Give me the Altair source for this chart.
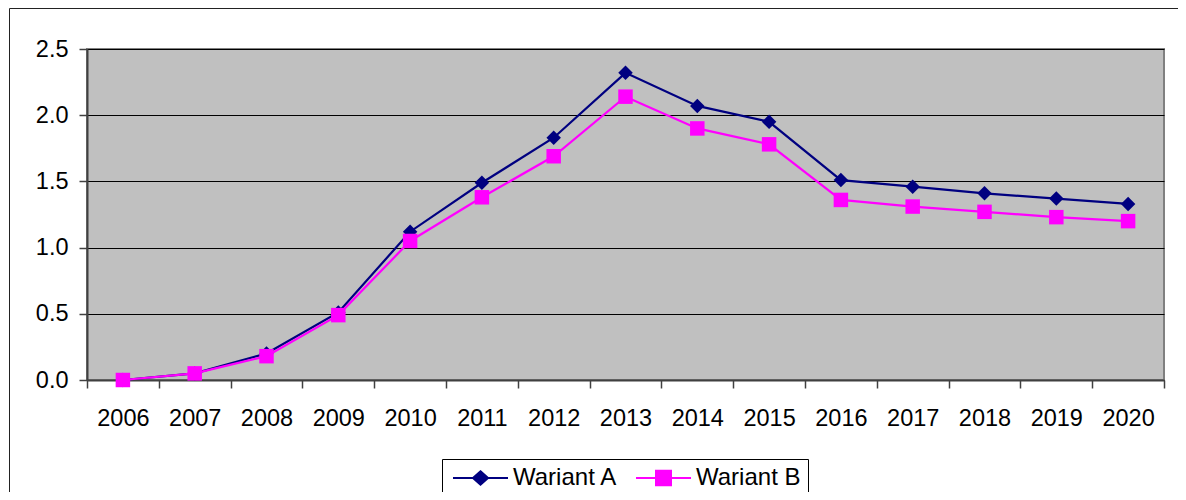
import altair as alt
import pandas as pd

years = ["2006", "2007", "2008", "2009", "2010", "2011", "2012", "2013",
         "2014", "2015", "2016", "2017", "2018", "2019", "2020"]
wariant_a = [0.0, 0.05, 0.20, 0.51, 1.12, 1.49, 1.83, 2.32, 2.07, 1.95, 1.51, 1.46, 1.41, 1.37, 1.33]
wariant_b = [0.0, 0.05, 0.18, 0.49, 1.05, 1.38, 1.69, 2.14, 1.90, 1.78, 1.36, 1.31, 1.27, 1.23, 1.20]
series_names = ["Wariant A", "Wariant B"]
series_colors = ["#000080", "#FF00FF"]
marker_shapes = ["diamond", "square"]
marker_sizes = [210, 210]
y_ticks = [0.0, 0.5, 1.0, 1.5, 2.0, 2.5]

rows = []
for name, vals in zip(series_names, [wariant_a, wariant_b]):
    for yr, v in zip(years, vals):
        rows.append({"year": yr, "value": v, "series": name})
df = pd.DataFrame(rows)

FONT = "Liberation Sans"

x_enc = alt.X("year:O", sort=years, bandPosition=0.5,
              scale=alt.Scale(type="band", paddingInner=0, paddingOuter=0),
              axis=alt.Axis(title=None, labelAngle=0, tickBand="extent", tickSize=8,
                            labelPadding=18, labelFontSize=23.5, labelFont=FONT,
                            labelColor="#000", domainColor="#404040", domainWidth=2,
                            tickColor="#404040", tickWidth=1.5, grid=False))
y_enc = alt.Y("value:Q", scale=alt.Scale(domain=[0, 2.5], nice=False),
              axis=alt.Axis(title=None, values=y_ticks, format=".1f", tickSize=8,
                            labelPadding=11, labelFontSize=23.5, labelFont=FONT,
                            labelColor="#000", domainColor="#404040", domainWidth=2,
                            tickColor="#404040", tickWidth=1.5, grid=True,
                            gridColor="#000", gridWidth=1))

base = alt.Chart(df)
layers = []
for name, col, shp, sz in zip(series_names, series_colors, marker_shapes, marker_sizes):
    sub = base.transform_filter(alt.datum.series == name)
    layers.append(sub.mark_line(color=col, strokeWidth=2.2).encode(x=x_enc, y=y_enc))
    layers.append(sub.mark_point(shape=shp, size=sz, filled=True, color=col, opacity=1)
                  .encode(x=x_enc, y=y_enc))

# legend glyphs: line segment with the marker in its middle (units of 8px)
legend_paths = [
    "M-1,0H5.875M2.4375,-0.84L3.38,0L2.4375,0.84L1.5,0Z",
    "M-1,0H5.875M1.5,-0.92H3.375V0.92H1.5Z",
]
leg = alt.Legend(title=None, orient="none", legendX=355, legendY=410, direction="horizontal",
                 columns=2, symbolSize=256, symbolStrokeWidth=2, labelFontSize=24,
                 labelFont=FONT, labelColor="#000", labelOffset=40, columnPadding=14,
                 strokeColor="#000", fillColor="#fff", padding=7, symbolOpacity=1)
legend_layer = base.transform_filter("false").mark_point(filled=True, size=256, strokeWidth=2).encode(
    x=x_enc, y=y_enc,
    fill=alt.Fill("series:N", scale=alt.Scale(domain=series_names, range=series_colors), legend=leg),
    stroke=alt.Stroke("series:N", scale=alt.Scale(domain=series_names, range=series_colors), legend=leg),
    shape=alt.Shape("series:N", scale=alt.Scale(domain=series_names, range=legend_paths), legend=leg),
)

frame = alt.Chart(pd.DataFrame({"f": [0]})).mark_rect(fill="transparent", stroke="#222", strokeWidth=1).encode(
    x=alt.value(-77.5), x2=alt.value(1200), y=alt.value(-40.5), y2=alt.value(700))

chart = alt.layer(*layers, legend_layer, frame).properties(
    width=1077, height=331,
    autosize=alt.AutoSizeParams(type="none"),
    padding={"left": 79, "top": 41, "right": 14, "bottom": 112},
    background="#ffffff",
).configure_view(fill="#C0C0C0", stroke="#808080", strokeWidth=2)

chart.save("out.html", embed_options={"renderer": "svg", "actions": False})
